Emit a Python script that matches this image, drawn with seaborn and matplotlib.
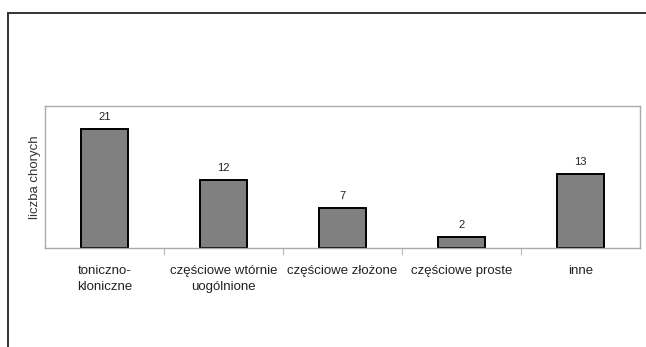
import matplotlib
matplotlib.use("Agg")
import matplotlib.pyplot as plt
from matplotlib.patches import Rectangle
import seaborn as sns
import pandas as pd

categories = ["toniczno-\nkloniczne", "częściowe wtórnie\nuogólnione", "częściowe złożone", "częściowe proste", "inne"]
values = [21, 12, 7, 2, 13]

df = pd.DataFrame({"typ": categories, "n": values})

sns.set_style("white")
plt.rcParams['font.family'] = ['Liberation Sans', 'DejaVu Sans']

fig = plt.figure(figsize=(6.46, 3.47), dpi=100)
ax = fig.add_axes([45/646, 1-248/347, 595/646, 142/347])

sns.barplot(data=df, x="typ", y="n", color="#808080", edgecolor="black",
            linewidth=1.4, width=0.4, saturation=1, ax=ax)
for p in ax.patches:
    p.set_facecolor("#808080")

for i, v in enumerate(values):
    ax.text(i, v + 1.2, str(v), ha="center", va="bottom", fontsize=8, color="#222222")

ax.set_ylim(0, 25)
ax.set_xlim(-0.5, 4.5)
ax.set_yticks([])
ax.set_xlabel("")
ax.set_ylabel("liczba chorych", fontsize=9.5, color="#333333", labelpad=3)
ax.tick_params(axis="x", which="major", length=0, pad=12, labelsize=9.5, labelcolor="#222222")
for lbl in ax.get_xticklabels():
    lbl.set_linespacing(1.5)
ax.set_xticks([0.5, 1.5, 2.5, 3.5], minor=True)
ax.tick_params(axis="x", which="minor", bottom=True, length=5, color="#bbbbbb", width=0.8)
for s in ax.spines.values():
    s.set_color("#aaaaaa")
    s.set_linewidth(1.0)

# outer frame (cut at right and bottom)
fig.patches.append(Rectangle((8/646, -0.1), 1.1, 1.1 - 13/347, transform=fig.transFigure,
                             fill=False, edgecolor="#333333", linewidth=1.4))

fig.savefig("out.png", dpi=100)
